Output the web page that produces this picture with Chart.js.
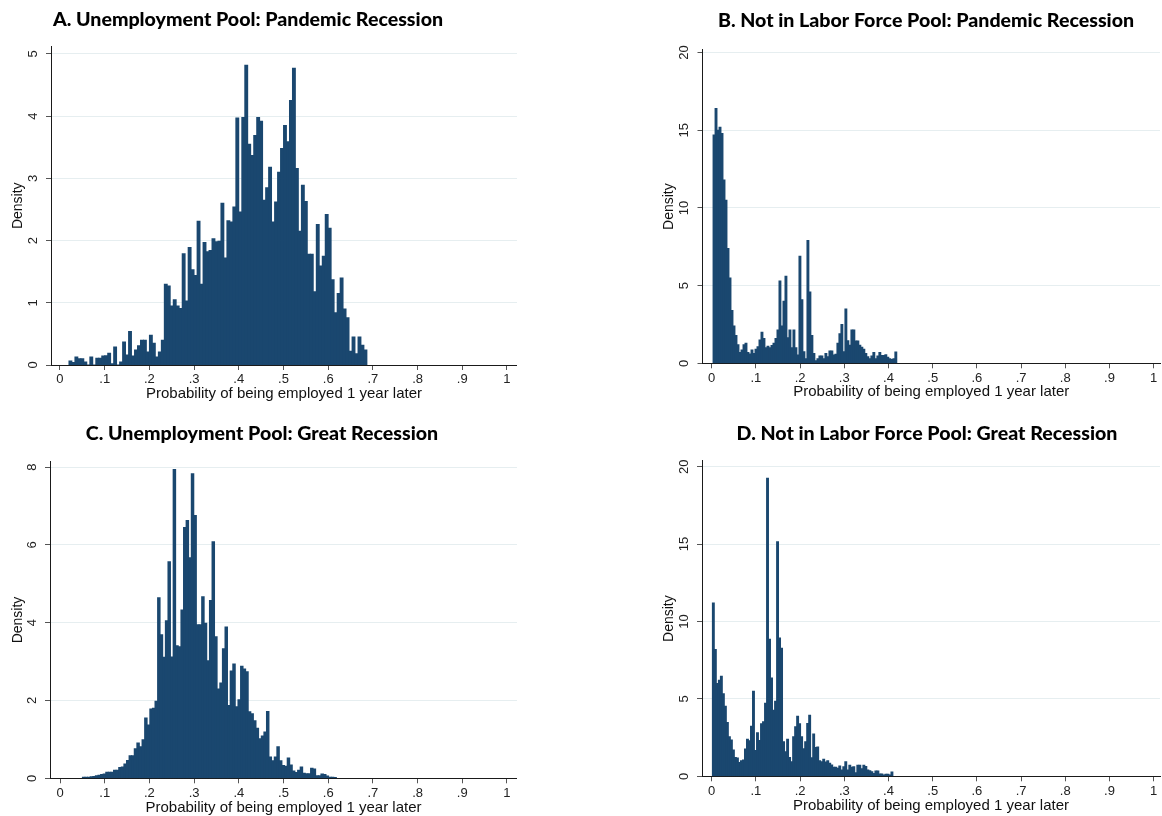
<!DOCTYPE html>
<html>
<head>
<meta charset="utf-8">
<title>Employment probability histograms</title>
<script src="https://cdn.jsdelivr.net/npm/chart.js@4.4.1/dist/chart.umd.min.js"></script>
<style>
  html, body { margin: 0; padding: 0; background: #fff; width: 1162px; height: 816px; overflow: hidden; }
  canvas { position: absolute; }
</style>
</head>
<body>
<canvas id="panelA"></canvas>
<canvas id="panelB"></canvas>
<canvas id="panelC"></canvas>
<canvas id="panelD"></canvas>
<script>
// Shared axis labels and ticks
const xAxisLabel = 'Probability of being employed 1 year later';
const yAxisLabel = 'Density';
const xTickValues = [0, 0.1, 0.2, 0.3, 0.4, 0.5, 0.6, 0.7, 0.8, 0.9, 1];

// A. Unemployment pool, pandemic recession
const titleA = 'A. Unemployment Pool: Pandemic Recession';
const binStartA = 0.02;
const binWidthA = 1 / 150;
const densityA = [
    0.065, 0.04, 0.13, 0.10, 0.10, 0.05, 0, 0.13, 0, 0.11,
    0.11, 0.145, 0.15, 0.19, 0.02, 0.29, 0, 0.05, 0.37, 0.16,
    0.54, 0.145, 0.24, 0.31, 0.40, 0.40, 0.21, 0.48, 0.35, 0.13,
    0.21, 0.40, 1.30, 1.27, 0.95, 1.05, 0.95, 0.91, 1.79, 1.03,
    1.89, 1.53, 1.44, 2.31, 1.30, 1.97, 1.82, 1.84, 2.03, 1.98,
    1.99, 2.60, 1.72, 2.32, 2.30, 2.54, 3.97, 2.46, 3.98, 4.82,
    3.55, 3.37, 3.69, 3.98, 3.92, 2.65, 2.85, 3.18, 2.30, 2.62,
    3.10, 3.48, 3.85, 3.59, 4.25, 4.77, 3.16, 2.15, 2.89, 2.63,
    1.78, 1.78, 1.18, 2.26, 1.59, 1.75, 2.42, 2.20, 1.37, 0.84,
    1.15, 1.40, 0.90, 0.76, 0.22, 0.45, 0.18, 0.45, 0.32, 0.24
];
const yTicksA = [0, 1, 2, 3, 4, 5];

// B. Not in labor force pool, pandemic recession
const titleB = 'B. Not in Labor Force Pool: Pandemic Recession';
const binStartB = 0.003;
const binWidthB = 0.00452;
const densityB = [
    14.7, 16.4, 15.0, 15.2, 14.8, 11.8, 10.5, 7.4, 5.5, 3.4,
    2.4, 1.8, 1.2, 0.7, 0.86, 1.2, 1.3, 0.7, 0.6, 0.86,
    0.64, 0.9, 1.07, 1.5, 2.0, 1.6, 1.0, 1.1, 1.0, 1.15,
    1.3, 1.6, 2.15, 5.3, 2.4, 4.0, 5.6, 1.65, 2.15, 1.0,
    2.15, 1.0, 0.54, 6.9, 4.1, 0.75, 0.3, 7.9, 4.6, 1.8,
    0.64, 0.17, 0.3, 0.47, 0.47, 0.3, 0.64, 0.43, 0.8, 0.8,
    0.54, 0.58, 1.3, 1.9, 2.5, 0.75, 3.5, 1.46, 1.16, 2.15,
    2.15, 1.44, 1.44, 1.16, 1.03, 0.9, 0.64, 0.43, 0.3, 0.47,
    0.7, 0.3, 0.47, 0.7, 0.5, 0.5, 0.55, 0.4, 0.3, 0.25,
    0.3, 0.73
];
const yTicksB = [0, 5, 10, 15, 20];

// C. Unemployment pool, great recession
const titleC = 'C. Unemployment Pool: Great Recession';
const binStartC = 0.05;
const binWidthC = 0.0058;
const densityC = [
    0.03, 0.03, 0.03, 0.04, 0.05, 0.07, 0.08, 0.10, 0.11, 0.16,
    0.16, 0.16, 0.21, 0.21, 0.28, 0.29, 0.37, 0.46, 0.58, 0.58,
    0.76, 0.91, 0.81, 0.99, 1.55, 1.37, 1.78, 1.80, 1.98, 4.64,
    3.69, 3.11, 4.05, 5.57, 3.12, 7.94, 3.41, 3.38, 4.33, 6.45,
    6.63, 5.67, 7.83, 6.76, 3.95, 3.95, 4.67, 3.99, 3.02, 4.57,
    6.08, 3.64, 2.30, 2.45, 3.33, 3.89, 1.87, 2.76, 2.94, 1.84,
    2.02, 2.88, 2.81, 2.74, 1.71, 1.66, 1.48, 1.29, 1.02, 1.09,
    1.19, 1.72, 0.55, 0.45, 0.55, 0.81, 0.45, 0.33, 0.31, 0.52,
    0.34, 0.19, 0.15, 0.21, 0.29, 0.13, 0.12, 0.12, 0.26, 0.24,
    0.07, 0.07, 0.11, 0.10, 0.06, 0.03, 0.03, 0.02
];
const yTicksC = [0, 2, 4, 6, 8];

// D. Not in labor force pool, great recession
const titleD = 'D. Not in Labor Force Pool: Great Recession';
const binStartD = 0.0014;
const binWidthD = 0.00454;
const densityD = [
    11.2, 8.2, 6.0, 6.2, 6.46, 5.34, 4.53, 3.48, 2.55, 2.34,
    1.70, 1.22, 1.18, 0.9, 1.0, 1.05, 1.76, 2.4, 2.3, 3.24,
    5.5, 1.67, 2.81, 2.32, 3.39, 3.52, 4.72, 19.25, 8.86, 6.35,
    4.27, 4.85, 15.15, 8.93, 8.28, 2.23, 1.59, 2.40, 1.22, 0.94,
    2.55, 3.2, 3.88, 3.39, 2.55, 1.78, 2.23, 3.41, 3.95, 1.20,
    2.73, 1.87, 1.89, 1.0, 0.94, 1.1, 0.92, 1.0, 0.84, 0.73,
    0.58, 0.58, 0.52, 0.67, 0.41, 0.62, 0.94, 0.41, 0.71, 0.58,
    0.62, 0.24, 0.71, 0.71, 0.49, 0.71, 0.64, 0.41, 0.36, 0.30,
    0.19, 0.34, 0.34, 0.15, 0.15, 0.09, 0.13, 0.13, 0.09, 0.28
];
const yTicksD = [0, 5, 10, 15, 20];

const BAR_COLOR = '#1a476f';
const GRID_COLOR = '#e6eef0';
const AXIS_COLOR = '#1a1a1a';
const TICK_COLOR = '#555';
const TEXT_FONT = 'Liberation Sans, Arial, sans-serif';
const TITLE_FONT = 'Lato, "Noto Sans", sans-serif';

// Layout of each panel (page pixels); the canvas is centred on its title
const panels = [
    { id: 'panelA', title: titleA, start: binStartA, width: binWidthA, values: densityA, yTicks: yTicksA,
      box: { left: -21, top: 0, width: 538, height: 408 }, xHeight: 43, yWidth: 72, padRight: 0,
      titlePad: { top: 8.8, bottom: 15.3 }, xRange: [-0.0201, 1.0224], yMax: 5.12, densityPad: 30.6, yTickPad: 9.4 },
    { id: 'panelB', title: titleB, start: binStartB, width: binWidthB, values: densityB, yTicks: yTicksB,
      box: { left: 652, top: 0, width: 548, height: 406 }, xHeight: 42.7, yWidth: 50.5, padRight: 40,
      titlePad: { top: 9.8, bottom: 17.8 }, xRange: [-0.0208, 1.0143], yMax: 20.17, densityPad: 8.6, yTickPad: 5.8 },
    { id: 'panelC', title: titleC, start: binStartC, width: binWidthC, values: densityC, yTicks: yTicksC,
      box: { left: 7, top: 408, width: 510, height: 414 }, xHeight: 43.7, yWidth: 43, padRight: 0,
      titlePad: { top: 14.3, bottom: 17.0 }, xRange: [-0.0224, 1.0224], yMax: 8.14, densityPad: 2.6, yTickPad: 9.4 },
    { id: 'panelD', title: titleD, start: binStartD, width: binWidthD, values: densityD, yTicks: yTicksD,
      box: { left: 654, top: 408, width: 546, height: 412 }, xHeight: 43.7, yWidth: 48, padRight: 40,
      titlePad: { top: 14.8, bottom: 15.8 }, xRange: [-0.022, 1.0143], yMax: 20.37, densityPad: 6.6, yTickPad: 5.8 }
];

const Histograms = {
    charts: {},

    init() {
        panels.forEach(p => this.render(p));
    },

    formatShare(v) {
        if (v === 0) return '0';
        if (v === 1) return '1';
        return v.toFixed(1).replace(/^0/, '');
    },

    render(p) {
        const canvas = document.getElementById(p.id);
        canvas.width = p.box.width;
        canvas.height = p.box.height;
        canvas.style.left = p.box.left + 'px';
        canvas.style.top = p.box.top + 'px';

        const points = p.values.map((v, i) => ({ x: p.start + (i + 0.5) * p.width, y: v }));

        this.charts[p.id] = new Chart(canvas.getContext('2d'), {
            type: 'bar',
            data: {
                datasets: [{
                    data: points,
                    backgroundColor: BAR_COLOR,
                    borderWidth: 0,
                    inflateAmount: 0.45,
                    barPercentage: 1,
                    categoryPercentage: 1
                }]
            },
            options: {
                responsive: false,
                animation: false,
                devicePixelRatio: 1,
                layout: { padding: 0 },
                plugins: {
                    legend: { display: false },
                    tooltip: { enabled: false },
                    title: {
                        display: true,
                        text: p.title,
                        color: '#000',
                        font: { family: TITLE_FONT, size: 19.6, weight: 900, lineHeight: 1.14 },
                        padding: p.titlePad
                    }
                },
                scales: {
                    x: {
                        type: 'linear',
                        offset: false,
                        min: p.xRange[0],
                        max: p.xRange[1],
                        afterBuildTicks: s => { s.ticks = xTickValues.map(v => ({ value: v })); },
                        afterFit: s => {
                            s.height = p.xHeight;
                            s.paddingLeft = 0;
                            s.paddingRight = p.padRight;
                        },
                        grid: { offset: false, drawOnChartArea: false, drawTicks: true, tickLength: 5, tickColor: TICK_COLOR },
                        border: { display: true, color: AXIS_COLOR, width: 1 },
                        ticks: {
                            autoSkip: false,
                            maxRotation: 0,
                            padding: 2,
                            color: '#222',
                            font: { family: TEXT_FONT, size: 13 },
                            callback: v => this.formatShare(v)
                        },
                        title: {
                            display: true,
                            text: xAxisLabel,
                            color: '#111',
                            font: { family: TEXT_FONT, size: 15, lineHeight: 1.2 },
                            padding: { top: 0, bottom: 5 }
                        }
                    },
                    y: {
                        min: 0,
                        max: p.yMax,
                        afterBuildTicks: s => { s.ticks = p.yTicks.map(v => ({ value: v })); },
                        afterFit: s => {
                            s.width = p.yWidth;
                            s.paddingTop = 0;
                            s.paddingBottom = 0;
                        },
                        grid: { color: GRID_COLOR, drawTicks: true, tickLength: 5, tickColor: TICK_COLOR },
                        border: { display: true, color: AXIS_COLOR, width: 1 },
                        ticks: {
                            minRotation: 90,
                            maxRotation: 90,
                            crossAlign: 'center',
                            padding: p.yTickPad,
                            color: '#222',
                            font: { family: TEXT_FONT, size: 13 }
                        },
                        title: {
                            display: true,
                            text: yAxisLabel,
                            color: '#111',
                            font: { family: TEXT_FONT, size: 14, lineHeight: 1.2 },
                            padding: { top: p.densityPad, bottom: 0 }
                        }
                    }
                }
            }
        });
    }
};

document.addEventListener('DOMContentLoaded', () => Histograms.init());
</script>
</body>
</html>
